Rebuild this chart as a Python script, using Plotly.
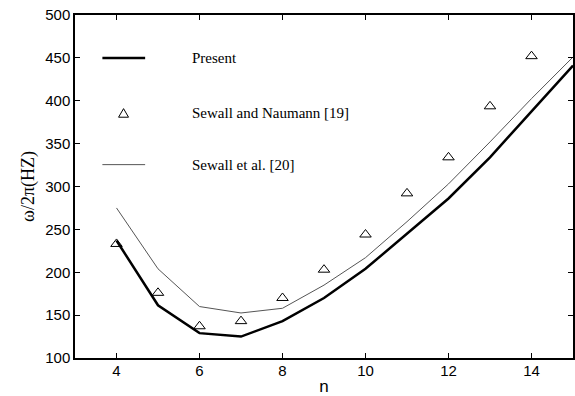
import plotly.graph_objects as go

n = [4, 5, 6, 7, 8, 9, 10, 11, 12, 13, 14, 15]
present = [237, 161.5, 129, 125, 143, 170, 204, 245, 286, 334, 387, 441]
sewall_et_al = [275, 204, 160, 152.5, 158, 185, 217, 259, 303, 352, 402.5, 451]
n_naumann = [4, 5, 6, 7, 8, 9, 10, 11, 12, 13, 14]
sewall_naumann = [233, 176, 137, 143, 170, 203, 244, 292, 334, 393.5, 452]

legend_names = ["Present", "Sewall and Naumann [19]", "Sewall et al. [20]"]
legend_y = [450, 385.5, 325.5]

fig = go.Figure()
fig.add_trace(go.Scatter(x=n, y=sewall_et_al, mode="lines",
                         line=dict(color="#555555", width=1), name=legend_names[2],
                         showlegend=False))
fig.add_trace(go.Scatter(x=n, y=present, mode="lines",
                         line=dict(color="black", width=2.5), name=legend_names[0],
                         showlegend=False))
fig.add_trace(go.Scatter(x=n_naumann, y=sewall_naumann, mode="markers",
                         marker=dict(symbol="triangle-up-open", size=10, color="black",
                                     line=dict(width=1)),
                         name=legend_names[1], showlegend=False))

# Manual legend (in data coordinates, top-left)
x0, x1, xt, xm = 3.66, 4.69, 5.76, 4.17
fig.add_shape(type="line", x0=x0, x1=x1, y0=legend_y[0], y1=legend_y[0],
              xref="x", yref="y", line=dict(color="black", width=2.5))
fig.add_shape(type="line", x0=x0, x1=x1, y0=legend_y[2], y1=legend_y[2],
              xref="x", yref="y", line=dict(color="#555555", width=1))
fig.add_shape(type="path",
              path=f"M {xm-0.12},{legend_y[1]-4.7} L {xm+0.12},{legend_y[1]-4.7} L {xm},{legend_y[1]+5.3} Z",
              xref="x", yref="y", line=dict(color="black", width=1))
for name, yy in zip(legend_names, legend_y):
    fig.add_annotation(x=xt, y=yy, text=name, xref="x", yref="y", showarrow=False,
                       xanchor="left", yanchor="middle",
                       font=dict(family="Liberation Serif", size=15, color="black"))

fig.update_layout(
    width=575, height=396,
    margin=dict(l=75, r=0, t=15, b=38),
    paper_bgcolor="white", plot_bgcolor="white",
    font=dict(family="Liberation Sans", size=15, color="black"),
    showlegend=False,
)
fig.update_xaxes(range=[3, 15], tickvals=[4, 6, 8, 10, 12, 14], ticks="inside", ticklen=5,
                 tickcolor="black", showline=True, linecolor="black", linewidth=1.5,
                 mirror="ticks", showgrid=False, zeroline=False, ticklabelstandoff=-2,
                 title=dict(text="n", standoff=2, font=dict(size=17)))
fig.update_yaxes(range=[100, 500], dtick=50, ticks="inside", ticklen=5,
                 tickcolor="black", showline=True, linecolor="black", linewidth=1.5,
                 mirror="ticks", showgrid=False, zeroline=False,
                 title=dict(text="ω/2π(HZ)", standoff=6,
                            font=dict(family="Liberation Serif", size=18)))

fig.write_html("out.html")
